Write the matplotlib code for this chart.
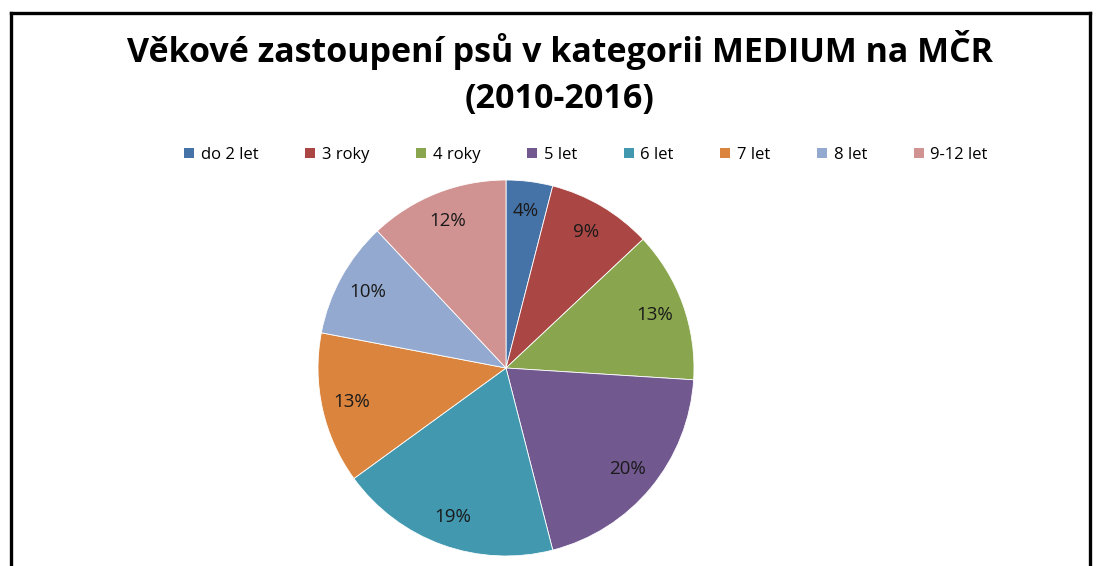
import matplotlib.pyplot as plt
from matplotlib.patches import Patch
from matplotlib.lines import Line2D

# data
categories = ["do 2 let", "3 roky", "4 roky", "5 let", "6 let", "7 let", "8 let", "9-12 let"]
shares = [4, 9, 13, 20, 19, 13, 10, 12]
colors = ["#4572A7", "#AA4643", "#89A54E", "#71588F",
          "#4198AF", "#DB843D", "#93A9CF", "#D19392"]

plt.rcParams["font.family"] = ["Open Sans", "DejaVu Sans"]

W, H = 1096, 566
fig = plt.figure(figsize=(W / 100, H / 100), dpi=100)

# chart border (bottom edge is cut off in the original)
for xs, ys in [([10.5, 10.5], [0, H - 13]),
               ([10.5, 1089.5], [H - 13, H - 13]),
               ([1089.5, 1089.5], [H - 13, 0])]:
    fig.add_artist(Line2D([x / W for x in xs], [y / H for y in ys],
                          color="black", linewidth=2.4))

fig.text(560 / W, 1 - 50 / H, "Věkové zastoupení psů v kategorii MEDIUM na MČR",
         ha="center", va="center", fontsize=24.5, fontweight="bold")
fig.text(560 / W, 1 - 99 / H, "(2010-2016)",
         ha="center", va="center", fontsize=24.5, fontweight="bold")

# pie: centre (506, 368) px, radius 188 px
r = 188
cx, cy = 506, 368
ax = fig.add_axes([(cx - r) / W, (H - cy - r) / H, 2 * r / W, 2 * r / H])
wedges, texts, autotexts = ax.pie(
    shares, colors=colors, startangle=90, counterclock=False,
    autopct=lambda p: f"{p:.0f}%", pctdistance=0.84,
    wedgeprops=dict(edgecolor="white", linewidth=0.6),
    textprops=dict(fontsize=13.5, color="#1a1a1a"))
ax.set_xlim(-1, 1)
ax.set_ylim(-1, 1)
ax.set_aspect("equal")
ax.axis("off")

handles = [Patch(facecolor=c, edgecolor="none") for c in colors]
fig.legend(handles, categories, loc="center", bbox_to_anchor=(586 / W, 1 - 155 / H),
           ncol=len(categories), frameon=False, fontsize=12,
           handlelength=0.6, handleheight=0.6, handletextpad=0.4,
           columnspacing=2.8)

fig.savefig("out.png", dpi=100)
